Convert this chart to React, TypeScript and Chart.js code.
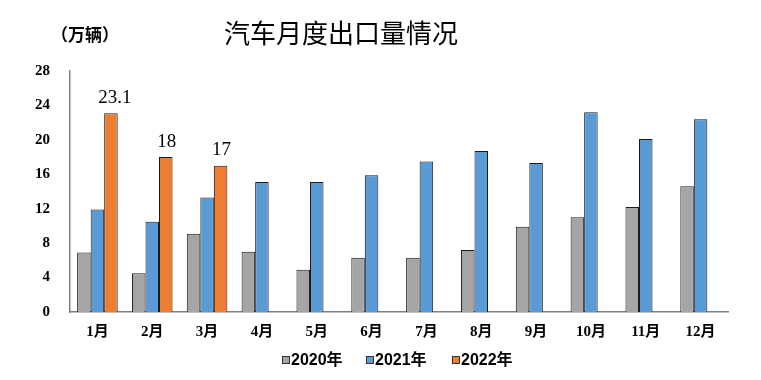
import React, { useEffect, useRef } from "react";
import { Chart, registerables } from "chart.js";

Chart.register(...registerables);

const months = ["1月", "2月", "3月", "4月", "5月", "6月", "7月", "8月", "9月", "10月", "11月", "12月"];
const y2020 = [6.9, 4.5, 9.1, 7.0, 4.9, 6.3, 6.3, 7.2, 9.9, 11.0, 12.2, 14.6];
const y2021 = [11.9, 10.5, 13.3, 15.1, 15.1, 15.9, 17.5, 18.7, 17.3, 23.2, 20.1, 22.4];
const y2022 = [23.1, 18, 17, null, null, null, null, null, null, null, null, null];
const seriesNames = ["2020年", "2021年", "2022年"];
const seriesColors = ["#A5A5A5", "#5B9BD5", "#ED7D31"];
const titleText = "汽车月度出口量情况";
const unitText = "（万辆）";

const serif = "'Liberation Serif', 'Noto Sans CJK SC', serif";

const textPlugin = {
  id: "textPlugin",
  afterDraw(chart: any) {
    const ctx = chart.ctx;
    ctx.save();
    ctx.fillStyle = "#000";
    ctx.textAlign = "center";
    ctx.textBaseline = "middle";
    ctx.font = "26px 'Noto Sans CJK SC', sans-serif";
    ctx.fillText(titleText, 341, 33);
    ctx.font = "bold 17px 'Noto Sans CJK SC', sans-serif";
    ctx.fillText(unitText, 85, 35);
    // data labels for 2022
    const meta = chart.getDatasetMeta(2);
    ctx.font = "19px " + serif;
    ctx.textBaseline = "bottom";
    meta.data.forEach((el: any, i: number) => {
      const v = y2022[i];
      if (v === null || v === undefined) return;
      ctx.fillText(String(v), el.x + (i === 0 ? 4 : 1), el.y - 6);
    });
    // legend
    const startX = [282, 366, 452];
    ctx.font = "bold 16px 'Liberation Sans', 'Noto Sans CJK SC', sans-serif";
    ctx.textAlign = "left";
    ctx.textBaseline = "middle";
    chart.data.datasets.forEach((ds: any, i: number) => {
      const x = startX[i];
      const y = 360;
      ctx.fillStyle = seriesColors[i];
      ctx.fillRect(x, y - 4, 8, 8);
      ctx.strokeStyle = "#333";
      ctx.lineWidth = 1;
      ctx.strokeRect(x + 0.5, y - 3.5, 7, 7);
      ctx.fillStyle = "#000";
      ctx.fillText(ds.label, x + 9, y + 1);
    });
    ctx.restore();
  },
};

export default function App() {
  const ref = useRef<HTMLCanvasElement>(null);
  useEffect(() => {
    if (!ref.current) return;
    const chart = new Chart(ref.current, {
      type: "bar",
      data: {
        labels: months,
        datasets: [
          { label: seriesNames[0], data: y2020, backgroundColor: seriesColors[0], borderColor: "#1a1a1a", borderWidth: 1 },
          { label: seriesNames[1], data: y2021, backgroundColor: seriesColors[1], borderColor: "#1a1a1a", borderWidth: 1 },
          { label: seriesNames[2], data: y2022 as any, backgroundColor: seriesColors[2], borderColor: "#1a1a1a", borderWidth: 1 },
        ],
      },
      options: {
        animation: false,
        responsive: false,
        maintainAspectRatio: false,
        layout: { padding: { left: 23, right: 33, top: 71, bottom: 36 } },
        datasets: { bar: { categoryPercentage: 0.74, barPercentage: 1 } },
        plugins: {
          title: { display: false },
          tooltip: { enabled: false },
          legend: { display: false },
        },
        scales: {
          x: {
            grid: { display: false },
            border: { display: true, color: "#808080", width: 1.5 },
            ticks: { color: "#000", padding: 3, font: { size: 15, weight: "bold", family: serif } },
          },
          y: {
            min: 0,
            max: 28,
            grid: { display: false },
            border: { display: true, color: "#808080", width: 1.5 },
            ticks: { stepSize: 4, color: "#000", padding: 12, font: { size: 15, weight: "bold", family: serif } },
          },
        },
      },
      plugins: [textPlugin],
    });
    return () => chart.destroy();
  }, []);
  return (
    <div style={{ position: "fixed", left: 0, top: 0, width: 761, height: 380, background: "#fff" }}>
      <canvas ref={ref} width={761} height={380} style={{ width: 761, height: 380 }} />
    </div>
  );
}
